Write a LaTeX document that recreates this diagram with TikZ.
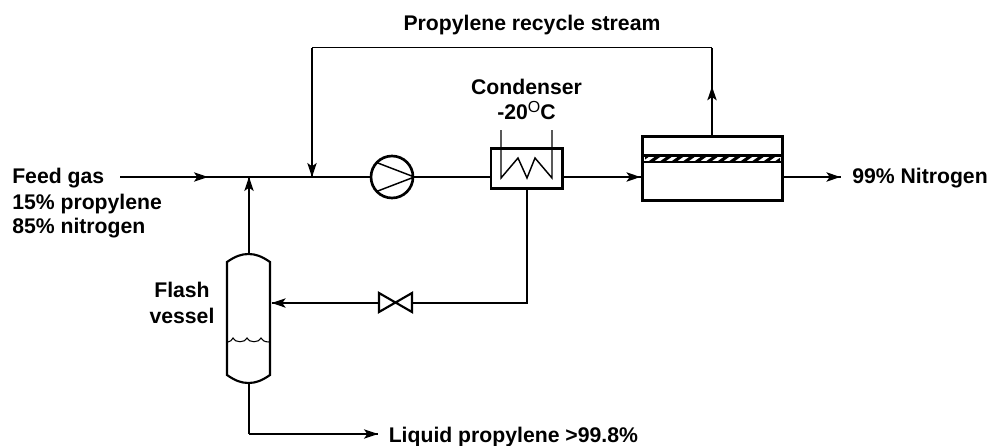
\documentclass[tikz,border=0pt]{standalone}
\usepackage{fontspec}
\setmainfont{Liberation Sans}
\usetikzlibrary{arrows.meta,decorations,decorations.markings}
\tikzstyle{flow>}=[decoration={markings, mark=at position #1 with {\arrow{Stealth[length=10.5pt,width=7pt,inset=2.5pt]}}}, postaction={decorate}]
\tikzstyle{pipe}=[line width=1.1pt]
\tikzstyle{unit}=[draw, line width=2pt, inner sep=0pt]
\tikzstyle{tag}=[font=\bfseries\fontsize{15.9}{18}\selectfont, inner sep=0pt]
\begin{document}
\begin{tikzpicture}[x=0.75pt,y=-0.75pt]
\useasboundingbox (0,0) rectangle (989,446);
% units
\node[unit, circle, minimum size=31.5pt] (pump) at (392,177) {};
\node[unit, minimum width=53.5pt, minimum height=30pt] (cond) at (526.5,168.5) {};
\node[unit, minimum width=104.5pt, minimum height=48.5pt, line width=2.4pt] (memb) at (712.5,168.5) {};
\node[minimum width=32.25pt, minimum height=96.75pt, inner sep=0pt] (flash) at (248.5,318.5) {};
\node[inner sep=0pt, minimum width=24pt, minimum height=14pt] (valve) at (395.5,302.5) {};
% stream points
\coordinate (feed) at (120,177);
\coordinate (j1) at (249,177);
\coordinate (j2) at (312,177);
\coordinate (r1) at (712,47.5);
\coordinate (r2) at (312,47.5);
\coordinate (out) at (841,177);
\coordinate (c1) at (527,303);
\coordinate (liq1) at (249,434);
\coordinate (liq2) at (378,434);
\coordinate (fin) at (271.5,303);
% pump and condenser insides
\draw[line width=1.1pt] (pump.east) -- (376.5,162.5);
\draw[line width=1.1pt] (pump.east) -- (376.5,191.5);
\draw[line width=1.1pt] (501,130) -- (501,178) -- (518,158) -- (527,178) -- (535,158) -- (552,178) -- (552,130);
% membrane layer
\begin{scope}
\clip (645,156.5) rectangle (780,161.5);
\foreach \x in {0,...,12}
  \draw[line width=2.4pt] (636+\x*11.5,164) -- (650+\x*11.5,154);
\end{scope}
\draw[line width=1.7pt] (memb.west |- 0,155.5) -- (memb.east |- 0,155.5);
\draw[line width=1.1pt] (memb.west |- 0,162) -- (memb.east |- 0,162);
% flash vessel
\draw[line width=1.6pt] (227,262) .. controls (235,256.5) and (241,254) .. (248.5,254) .. controls (256,254) and (262,256.5) .. (270,262) -- (270,375) .. controls (262,380.5) and (256,383) .. (248.5,383) .. controls (241,383) and (235,380.5) .. (227,375) -- cycle;
\draw[line width=0.8pt] (228,342) .. controls (230,342) and (232,340) .. (233,338) .. controls (235,343) and (245,343) .. (247,338) .. controls (249,343) and (259,343) .. (261,338) .. controls (262,340) and (264,342) .. (269,342);
% valve
\draw[line width=1.6pt] (395.5,302.5) -- (379,293) -- (379,312) -- cycle;
\draw[line width=1.6pt] (395.5,302.5) -- (412,293) -- (412,312) -- cycle;
% streams
\draw[pipe,flow>=0.682] (feed) -- (j1);
\draw[pipe] (j1) -- (pump.west);
\draw[pipe] (pump.east) -- (cond.west |- j1);
\draw[pipe,flow>=0.99] (cond.east |- j1) -- (memb.west |- j1);
\draw[pipe,flow>=0.99] (memb.east |- j1) -- (out);
\draw[pipe,flow>=0.554] (memb.north -| r1) -- (r1);
\draw[pipe] (r1) -- (r2);
\draw[pipe,flow>=1] (r2) -- (j2);
\draw[pipe,flow>=1] (flash.north -| j1) -- (j1);
\draw[pipe] (cond.south -| c1) -- (c1) -- (412,303);
\draw[pipe,flow>=0.999] (379,303) -- (fin);
\draw[pipe] (flash.south -| liq1) -- (liq1);
\draw[pipe,flow>=1] (liq1) -- (liq2);
% labels
\node[tag, anchor=base] (l1) at (532,30) {Propylene recycle stream};
\node[tag, anchor=base] (l2) at (526.5,94) {Condenser};
\node[tag, anchor=base] (l3) at (526.5,119) {-20\raisebox{0.55ex}{\fontsize{12}{12}\selectfont\mdseries O}C};
\node[tag, anchor=base west] (l4) at (12,183) {Feed gas};
\node[tag, anchor=base west] (l5) at (12,209) {15\% propylene};
\node[tag, anchor=base west] (l6) at (12,233) {85\% nitrogen};
\node[tag, anchor=base west] (l7) at (852,183) {99\% Nitrogen};
\node[tag, anchor=base] (l8) at (182,297) {Flash};
\node[tag, anchor=base] (l9) at (182,323) {vessel};
\node[tag, anchor=base west] (l10) at (388.5,442) {Liquid propylene >99.8\%};
\end{tikzpicture}
\end{document}
